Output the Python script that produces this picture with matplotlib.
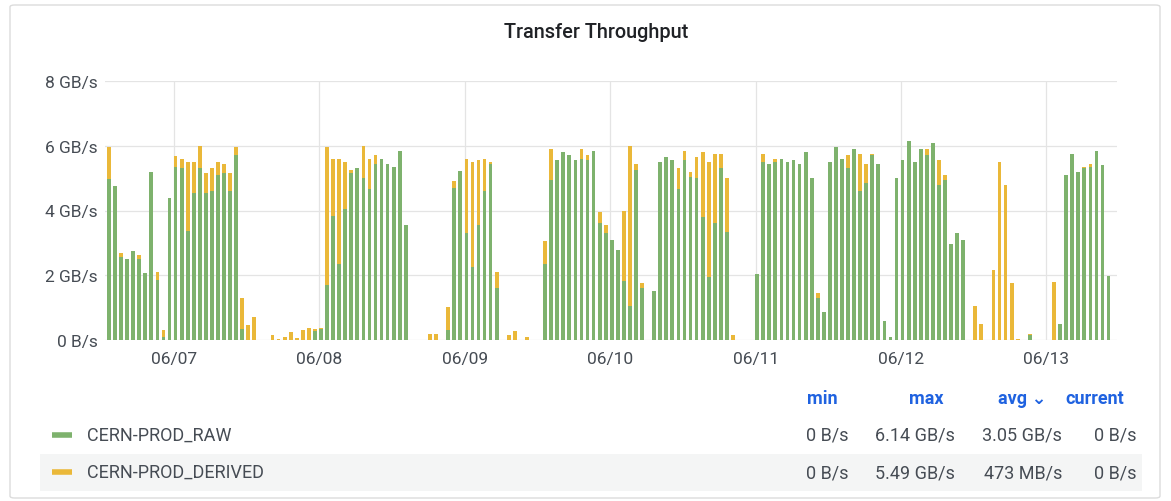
import matplotlib
matplotlib.use("Agg")
import matplotlib.pyplot as plt
from matplotlib.patches import FancyBboxPatch, Rectangle
from datetime import datetime, timedelta
import matplotlib.dates as mdates

# ---- data (GB/s, hourly) ----
raw = [4.97, 4.76, 2.55, 2.5, 2.76, 2.5, 2.07, 5.2, 1.85, 0.1,
       4.4, 5.35, 5.3, 3.37, 4.55, 5.3, 4.55, 4.6, 5.1, 5.15,
       4.6, 5.7, 0.35, 0, 0, 0, 0, 0, 0, 0,
       0, 0, 0, 0, 0.28, 0.35, 1.71, 3.82, 2.35, 4.05,
       5.15, 5.3, 5.0, 4.65, 5.45, 5.6, 5.45, 5.35, 5.85, 3.55,
       0, 0, 0, 0, 0, 0, 0.32, 4.69, 5.23, 3.29,
       2.26, 3.55, 4.6, 5.45, 1.6, 0, 0, 0, 0, 0,
       0, 0, 2.35, 4.95, 5.55, 5.8, 5.7, 5.55, 5.6, 5.55,
       5.85, 3.6, 3.3, 3.1, 2.78, 1.83, 1.05, 5.25, 1.6, 0,
       1.5, 5.5, 5.65, 5.55, 4.65, 5.55, 5.05, 5.0, 3.8, 1.95,
       3.6, 5.3, 3.35, 0, 0, 0, 0, 2.05, 5.5, 5.45,
       5.5, 5.6, 5.5, 5.55, 5.45, 5.8, 5.0, 1.3, 0.85, 5.5,
       5.95, 5.6, 5.3, 5.9, 4.6, 4.85, 5.7, 5.45, 0.6, 0.1,
       5.0, 5.55, 6.14, 5.5, 5.9, 5.7, 6.1, 4.8, 4.95, 2.97,
       3.3, 3.1, 0, 0, 0, 0, 0, 0, 0, 0,
       0, 0, 0.15, 0, 0, 0, 0, 0.5, 5.1, 5.75,
       5.2, 5.3, 5.35, 5.85, 5.4, 1.98, 0]
derived = [0.98, 0, 0.15, 0, 0, 0.13, 0, 0, 0.25, 0.2,
           0, 0.33, 0.3, 2.13, 0.95, 0.7, 0.62, 0.7, 0.4, 0.3,
           0.55, 0.25, 0.95, 0.45, 0.7, 0, 0, 0.15, 0.03, 0.1,
           0.25, 0.05, 0.3, 0.38, 0.07, 0.02, 4.24, 1.78, 3.23, 1.45,
           0.1, 0, 1.0, 0.95, 0.25, 0, 0, 0, 0, 0,
           0, 0, 0, 0.2, 0.2, 0, 0.71, 0.21, 0, 2.31,
           3.24, 2.0, 1.0, 0.05, 0.5, 0, 0.15, 0.28, 0, 0.08,
           0, 0, 0.7, 0.95, 0, 0, 0, 0, 0.3, 0.15,
           0, 0.35, 0.25, 0, 0, 2.17, 4.95, 0.2, 0.15, 0,
           0, 0, 0, 0, 0.65, 0.3, 0.15, 0.65, 2.0, 3.55,
           2.15, 0.45, 1.65, 0.15, 0, 0, 0, 0, 0.25, 0,
           0.1, 0, 0, 0, 0, 0, 0, 0.15, 0, 0,
           0, 0, 0.4, 0, 1.15, 0.6, 0.05, 0, 0, 0,
           0, 0, 0, 0, 0, 0.2, 0, 0.75, 0.15, 0,
           0, 0, 0, 1.05, 0.5, 0, 2.15, 5.49, 4.8, 1.75,
           0.02, 0, 0.03, 0, 0, 0, 1.8, 0, 0, 0,
           0, 0.05, 0.1, 0, 0, 0, 0]

series_names = ["CERN-PROD_RAW", "CERN-PROD_DERIVED"]
stat_headers = ["min", "max", "avg \u2304", "current"]
stats_raw = ["0 B/s", "6.14 GB/s", "3.05 GB/s", "0 B/s"]
stats_derived = ["0 B/s", "5.49 GB/s", "473 MB/s", "0 B/s"]
y_ticks = [0, 2, 4, 6, 8]
y_labels = ["0 B/s", "2 GB/s", "4 GB/s", "6 GB/s", "8 GB/s"]
day_labels = ["06/07", "06/08", "06/09", "06/10", "06/11", "06/12", "06/13"]

start = datetime(2021, 6, 6, 13, 16)
times = [start + timedelta(hours=i) for i in range(len(raw))]
xnum = mdates.date2num(times)

GREEN = "#7eb26d"
YELLOW = "#eab839"
TEXT = "#464c54"
GRID = "#e4e4e4"
BLUE = "#1f62e0"

W, H = 1171, 502
plt.rcParams['font.family'] = ['Roboto', 'DejaVu Sans']
fig = plt.figure(figsize=(W / 100, H / 100), dpi=100)
fig.patch.set_facecolor("white")

def fx(x):
    return x / W

def fy(y):
    return 1 - y / H

# panel border
fig.patches.append(FancyBboxPatch((fx(10), fy(499)), fx(1150), (499 - 6) / H,
                                  boxstyle="round,pad=0,rounding_size=0.004",
                                  transform=fig.transFigure, facecolor="white",
                                  edgecolor="#dcdcdc", linewidth=1.0, zorder=-10))
# highlighted legend row background
fig.patches.append(Rectangle((fx(40), fy(492)), fx(1102), 37 / H,
                             transform=fig.transFigure, facecolor="#f4f5f5",
                             edgecolor="none", zorder=-5))

fig.text(fx(596), fy(33), "Transfer Throughput", ha="center", va="center",
         fontsize=14.3, fontweight="medium", color="#202226")

ax = fig.add_axes([fx(105), fy(341), fx(1012), (341 - 82) / H])
ax.set_facecolor("none")
bw = 0.62 / 24
ax.bar(xnum, raw, width=bw, color=GREEN, linewidth=0, zorder=3)
ax.bar(xnum, derived, width=bw, bottom=raw, color=YELLOW, linewidth=0, zorder=3)

t0 = mdates.date2num(datetime(2021, 6, 7))
x_left = mdates.date2num(datetime(2021, 6, 6, 12, 37))
x_right = x_left + 1012 / 145.4
ax.set_xlim(x_left, x_right)
ax.set_ylim(0, 8)
ax.set_yticks(y_ticks)
ax.set_yticklabels(y_labels)
ax.set_xticks([t0 + k for k in range(len(day_labels))])
ax.set_xticklabels(day_labels)
ax.tick_params(axis="both", length=0, labelsize=12.5, colors=TEXT)
ax.tick_params(axis="x", pad=8)
ax.tick_params(axis="y", pad=5)
ax.grid(True, color=GRID, linewidth=0.9, zorder=0)
for s in ax.spines.values():
    s.set_visible(False)

# legend
colors = [GREEN, YELLOW]
rows_y = [436, 473]
stats = [stats_raw, stats_derived]
for name, c, yy, st in zip(series_names, colors, rows_y, stats):
    fig.lines.append(plt.Line2D([fx(52), fx(72)], [fy(yy), fy(yy)],
                                transform=fig.transFigure, color=c, linewidth=4,
                                solid_capstyle="butt"))
    fig.text(fx(87), fy(yy), name, ha="left", va="center", fontsize=13, color=TEXT)
    for v, xr in zip(st, [848, 955, 1062, 1137]):
        fig.text(fx(xr), fy(yy), v, ha="right", va="center", fontsize=13, color=TEXT)

for h, xc in zip(stat_headers, [822, 926, 1022, 1095]):
    fig.text(fx(xc), fy(399), h, ha="center", va="center", fontsize=13,
             fontweight="bold", color=BLUE)

fig.savefig("out.png", dpi=100)
